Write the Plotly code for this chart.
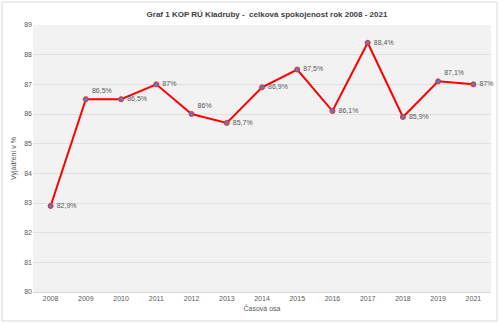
import plotly.graph_objects as go

years = ["2008", "2009", "2010", "2011", "2012", "2013", "2014", "2015", "2016", "2017", "2018", "2019", "2021"]
values = [82.9, 86.5, 86.5, 87.0, 86.0, 85.7, 86.9, 87.5, 86.1, 88.4, 85.9, 87.1, 87.0]
labels = ["82,9%", "86,5%", "86,5%", "87%", "86%", "85,7%", "86,9%", "87,5%", "86,1%", "88,4%", "85,9%", "87,1%", "87%"]
positions = ["middle right", "top right", "middle right", "middle right", "top right", "middle right",
             "middle right", "middle right", "middle right", "middle right", "middle right", "top right", "middle right"]

FONT = "Liberation Sans"
GREY = "#595959"

fig = go.Figure()
fig.add_trace(go.Scatter(
    x=years, y=values, mode="lines+markers+text",
    text=[" " + t for t in labels], textposition=positions,
    textfont=dict(family=FONT, size=7, color=GREY),
    line=dict(color="#ff0000", width=2),
    marker=dict(size=5, color="#6a74b8", line=dict(color="#e03030", width=1)),
    cliponaxis=False, showlegend=False,
))

W, H = 500, 324
l, r, t, b = 33, 9, 25, 32
pw, ph = W - l - r, H - t - b

fig.update_layout(
    width=W, height=H,
    margin=dict(l=l, r=r, t=t, b=b),
    paper_bgcolor="white", plot_bgcolor="#f2f2f2",
    title=dict(text="<b>Graf 1 KOP RÚ Kladruby -  celková spokojenost rok 2008 - 2021</b>",
               x=(267) / W, xanchor="center", y=1 - 14 / H, yanchor="middle",
               font=dict(family=FONT, size=8, color="#404040")),
    xaxis=dict(type="category", range=[-0.5, len(years) - 0.5], showgrid=False, zeroline=False,
               tickfont=dict(family=FONT, size=7, color=GREY), ticks="",
               title=dict(text="Časová osa", font=dict(family=FONT, size=7, color=GREY), standoff=4),
               showline=True, linecolor="#d9d9d9", linewidth=1),
    yaxis=dict(range=[80, 89], dtick=1, showgrid=True, gridcolor="#e0e0e0", gridwidth=1,
               zeroline=False, tickfont=dict(family=FONT, size=7, color=GREY), ticks="",
               title=dict(text="Vyjádření v %", font=dict(family=FONT, size=7, color=GREY), standoff=6)),
    font=dict(family=FONT),
)

fig.add_shape(type="rect", xref="paper", yref="paper",
              x0=(2 - l) / pw, x1=(497 - l) / pw,
              y0=1 - (321 - t) / ph, y1=1 - (2 - t) / ph,
              line=dict(color="#d9d9d9", width=1), fillcolor="rgba(0,0,0,0)", layer="below")

fig.write_html("out.html")
